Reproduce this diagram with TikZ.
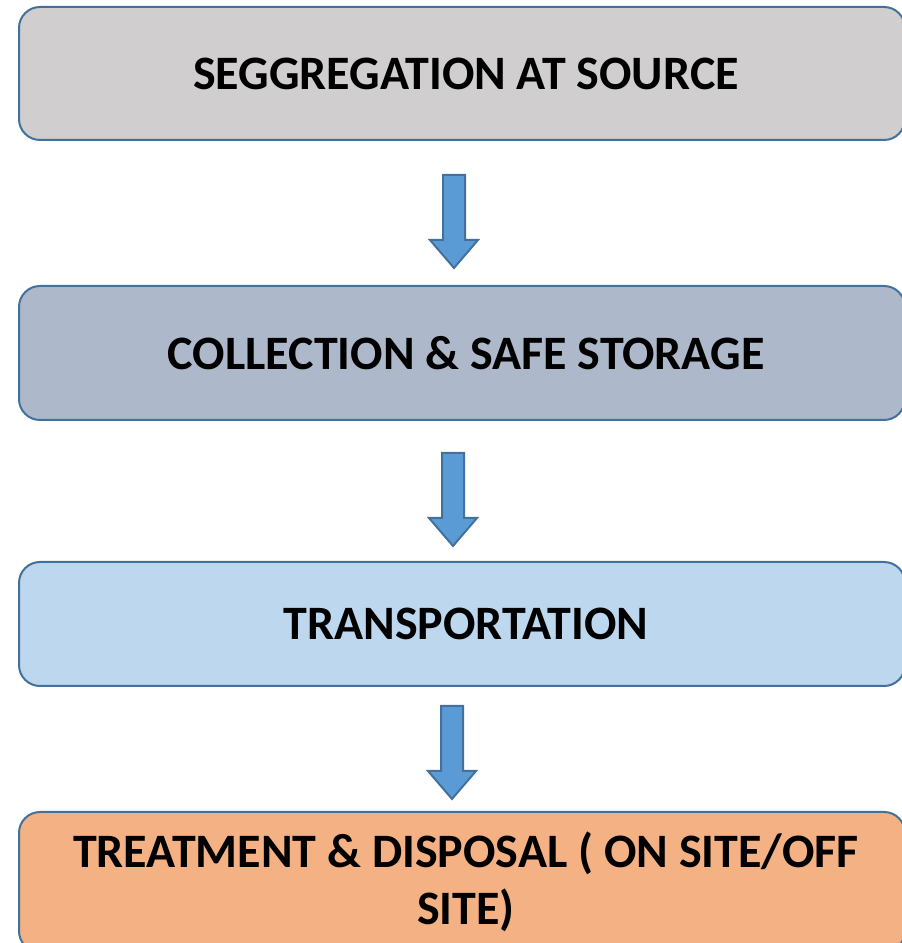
\documentclass[tikz,border=0pt]{standalone}
\usepackage{fontspec}
\setmainfont{Carlito}
\usetikzlibrary{positioning, calc}

\definecolor{edgeblue}{HTML}{41719C}
\definecolor{arrowblue}{HTML}{5B9BD5}
\definecolor{sourcegray}{HTML}{D0CECE}
\definecolor{storeblue}{HTML}{ADB9CA}
\definecolor{transblue}{HTML}{BDD7EE}
\definecolor{treatorange}{HTML}{F4B183}

\begin{document}
\begin{tikzpicture}[x=1pt, y=1pt]
        % Styles
        \tikzstyle{stagebox} = [rectangle, draw=edgeblue, line width=2pt,
            rounded corners=21pt, minimum width=886pt, align=center,
            font=\fontsize{48}{57}\selectfont\bfseries]
        \tikzstyle{blockarrow} = [draw=edgeblue, line width=2pt, fill=arrowblue,
            line join=miter]
        \tikzset{downarrow/.pic={
            \path [blockarrow] (-11,0) -- (11,0) -- (11,-65) -- (24,-65)
                -- (0,-93) -- (-24,-65) -- (-11,-65) -- cycle;}}

        \useasboundingbox (0,0) rectangle (902,943);

        % Nodes
        \node [stagebox, fill=sourcegray, minimum height=133pt] (source)
            at (462,869.5) {\hspace*{8pt}SEGGREGATION AT SOURCE};
        \node [stagebox, fill=storeblue, minimum height=134pt] (storage)
            at (462,590) {\hspace*{8pt}COLLECTION \& SAFE STORAGE};
        \node [stagebox, fill=transblue, minimum height=124pt] (transport)
            at (462,319) {\hspace*{8pt}TRANSPORTATION};
        \node [stagebox, fill=treatorange, minimum height=140pt] (treatment)
            at (462,61) {\hspace*{8pt}TREATMENT \& DISPOSAL ( ON SITE/OFF\\
            \hspace*{8pt}SITE)};

        % Connections
        \pic at ($(source.south)+(-8,-34)$) {downarrow};
        \pic at ($(storage.south)+(-9,-32)$) {downarrow};
        \pic at ($(transport.south)+(-10,-19)$) {downarrow};
    \end{tikzpicture}
\end{document}
